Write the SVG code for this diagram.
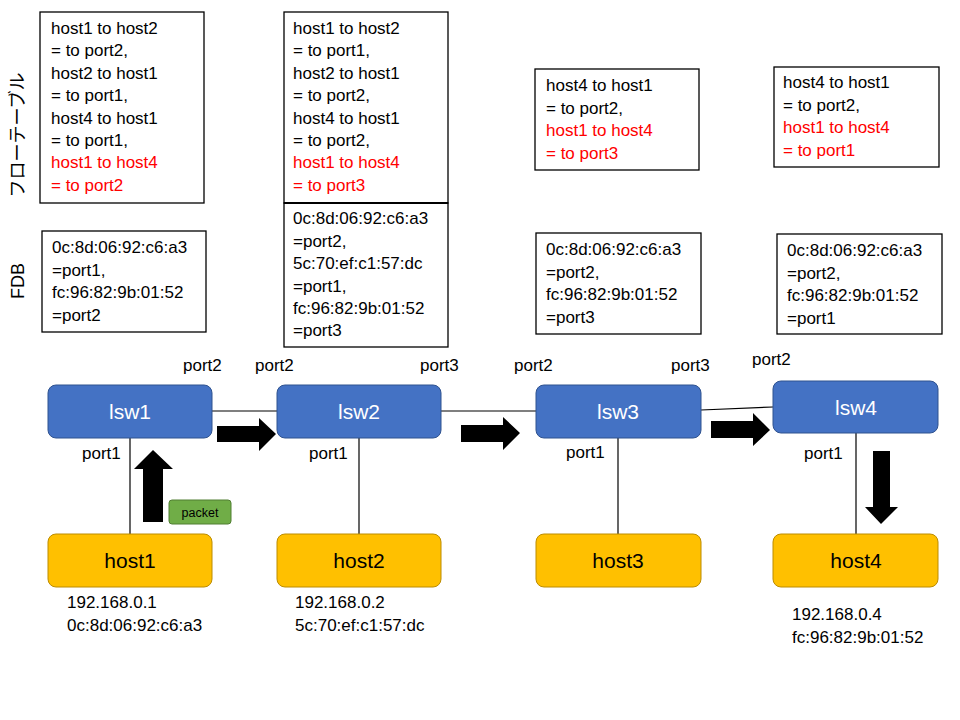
<svg xmlns="http://www.w3.org/2000/svg" width="960" height="720" viewBox="0 0 960 720">
<style>
text{font-family:"Liberation Sans",Arial,"Noto Sans CJK JP",sans-serif;fill:#000}
.t{font-size:17px}
.r{fill:#FF0000}
.box{fill:#fff;stroke:#000;stroke-width:1.3}
.sw{fill:#4472C4;stroke:#2F528F;stroke-width:1}
.host{fill:#FFC000;stroke:#BC8C00;stroke-width:1}
.swl{font-size:21px;fill:#fff;text-anchor:middle}
.hl{font-size:21px;text-anchor:middle}
.ln{stroke:#000;stroke-width:1.2;fill:none}
.ar{fill:#000}
</style>
<rect width="960" height="720" fill="#fff"/>

<g id="labels">
<text transform="rotate(-90 18 135)" x="18" y="141" font-size="18" text-anchor="middle">フローテーブル</text>
<text transform="rotate(-90 18 281)" x="18" y="287" font-size="18" text-anchor="middle">FDB</text>
</g>

<g id="flow1">
<rect class="box" x="40" y="12" width="164" height="191"/>
<text class="t" x="51" y="34">host1 to host2</text>
<text class="t" x="51" y="56.4">= to port2,</text>
<text class="t" x="51" y="78.8">host2 to host1</text>
<text class="t" x="51" y="101.2">= to port1,</text>
<text class="t" x="51" y="123.6">host4 to host1</text>
<text class="t" x="51" y="146">= to port1,</text>
<text class="t r" x="51" y="168.4">host1 to host4</text>
<text class="t r" x="51" y="190.8">= to port2</text>
</g>

<g id="fdb1">
<rect class="box" x="42" y="231" width="164" height="101"/>
<text class="t" x="52" y="253">0c:8d:06:92:c6:a3</text>
<text class="t" x="52" y="276">=port1,</text>
<text class="t" x="52" y="298">fc:96:82:9b:01:52</text>
<text class="t" x="52" y="321">=port2</text>
</g>

<g id="flow2">
<rect class="box" x="284" y="12" width="164" height="191"/>
<text class="t" x="293" y="34">host1 to host2</text>
<text class="t" x="293" y="56.4">= to port1,</text>
<text class="t" x="293" y="78.8">host2 to host1</text>
<text class="t" x="293" y="101.2">= to port2,</text>
<text class="t" x="293" y="123.6">host4 to host1</text>
<text class="t" x="293" y="146">= to port2,</text>
<text class="t r" x="293" y="168.4">host1 to host4</text>
<text class="t r" x="293" y="190.8">= to port3</text>
</g>

<g id="fdb2">
<rect class="box" x="284" y="203" width="164" height="144"/>
<line x1="284" y1="203" x2="448" y2="203" stroke="#000" stroke-width="2.2"/>
<text class="t" x="293" y="224">0c:8d:06:92:c6:a3</text>
<text class="t" x="293" y="247">=port2,</text>
<text class="t" x="293" y="269">5c:70:ef:c1:57:dc</text>
<text class="t" x="293" y="292">=port1,</text>
<text class="t" x="293" y="314">fc:96:82:9b:01:52</text>
<text class="t" x="293" y="336">=port3</text>
</g>

<g id="flow3">
<rect class="box" x="535" y="69" width="164" height="101"/>
<text class="t" x="546" y="91">host4 to host1</text>
<text class="t" x="546" y="114">= to port2,</text>
<text class="t r" x="546" y="136">host1 to host4</text>
<text class="t r" x="546" y="159">= to port3</text>
</g>

<g id="fdb3">
<rect class="box" x="536" y="233" width="165" height="101"/>
<text class="t" x="546" y="255">0c:8d:06:92:c6:a3</text>
<text class="t" x="546" y="278">=port2,</text>
<text class="t" x="546" y="300">fc:96:82:9b:01:52</text>
<text class="t" x="546" y="323">=port3</text>
</g>

<g id="flow4">
<rect class="box" x="774" y="67" width="165" height="100"/>
<text class="t" x="783" y="88">host4 to host1</text>
<text class="t" x="783" y="111">= to port2,</text>
<text class="t r" x="783" y="133">host1 to host4</text>
<text class="t r" x="783" y="156">= to port1</text>
</g>

<g id="fdb4">
<rect class="box" x="777" y="234" width="165" height="100"/>
<text class="t" x="787" y="256">0c:8d:06:92:c6:a3</text>
<text class="t" x="787" y="279">=port2,</text>
<text class="t" x="787" y="301">fc:96:82:9b:01:52</text>
<text class="t" x="787" y="324">=port1</text>
</g>

<g id="connectors">
<line class="ln" x1="212" y1="411" x2="277" y2="411"/>
<line class="ln" x1="441" y1="411" x2="536" y2="411"/>
<line class="ln" x1="701" y1="410" x2="773" y2="407"/>
<line class="ln" x1="130" y1="438" x2="130" y2="534"/>
<line class="ln" x1="359" y1="438" x2="359" y2="534"/>
<line class="ln" x1="618" y1="438" x2="618" y2="534"/>
<line class="ln" x1="856" y1="433" x2="856" y2="534"/>
</g>

<g id="lsw1">
<rect class="sw" x="48" y="385" width="164" height="53" rx="8"/>
<text class="swl" x="130" y="419">lsw1</text>
</g>
<g id="lsw2">
<rect class="sw" x="277" y="385" width="164" height="53" rx="8"/>
<text class="swl" x="359" y="419">lsw2</text>
</g>
<g id="lsw3">
<rect class="sw" x="536" y="385" width="165" height="53" rx="8"/>
<text class="swl" x="618" y="419">lsw3</text>
</g>
<g id="lsw4">
<rect class="sw" x="773" y="381" width="165" height="52" rx="8"/>
<text class="swl" x="856" y="415">lsw4</text>
</g>

<g id="host1">
<rect class="host" x="48" y="534" width="164" height="53" rx="8"/>
<text class="hl" x="130" y="568">host1</text>
</g>
<g id="host2">
<rect class="host" x="277" y="534" width="164" height="53" rx="8"/>
<text class="hl" x="359" y="568">host2</text>
</g>
<g id="host3">
<rect class="host" x="536" y="534" width="165" height="53" rx="8"/>
<text class="hl" x="618" y="568">host3</text>
</g>
<g id="host4">
<rect class="host" x="773" y="534" width="165" height="53" rx="8"/>
<text class="hl" x="856" y="568">host4</text>
</g>

<g id="ports">
<text class="t" x="183" y="371">port2</text>
<text class="t" x="82" y="459">port1</text>
<text class="t" x="255" y="371">port2</text>
<text class="t" x="420" y="371">port3</text>
<text class="t" x="309" y="459">port1</text>
<text class="t" x="514" y="371">port2</text>
<text class="t" x="671" y="371">port3</text>
<text class="t" x="566" y="458">port1</text>
<text class="t" x="752" y="365">port2</text>
<text class="t" x="804" y="459">port1</text>
</g>

<g id="addresses">
<text class="t" x="67" y="608">192.168.0.1</text>
<text class="t" x="67" y="631">0c:8d:06:92:c6:a3</text>
<text class="t" x="295" y="608">192.168.0.2</text>
<text class="t" x="295" y="631">5c:70:ef:c1:57:dc</text>
<text class="t" x="792" y="620">192.168.0.4</text>
<text class="t" x="792" y="643">fc:96:82:9b:01:52</text>
</g>

<g id="flow-arrows">
<polygon class="ar" points="143,522 163,522 163,469 173,469 153,450 134,469 143,469"/>
<polygon class="ar" points="217,426 259,426 259,418 276,434 259,451 259,442 217,442"/>
<polygon class="ar" points="461,425 503,425 503,417 520,433 503,450 503,442 461,442"/>
<polygon class="ar" points="711,421 753,421 753,413 770,430 753,446 753,438 711,438"/>
<polygon class="ar" points="873,451 890,451 890,507 898,507 881,524 865,507 873,507"/>
</g>

<g id="packet">
<rect x="169" y="500" width="62" height="24" rx="3" fill="#70AD47" stroke="#507E32" stroke-width="1"/>
<text x="200" y="517" font-size="12.5" text-anchor="middle">packet</text>
</g>
</svg>
